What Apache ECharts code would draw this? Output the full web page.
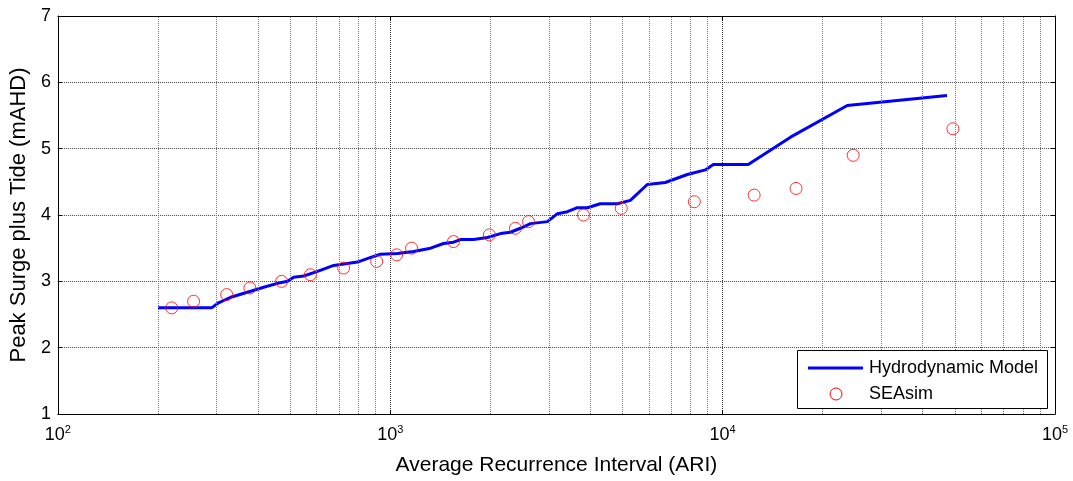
<!DOCTYPE html>
<html>
<head>
<meta charset="utf-8">
<script src="https://cdn.jsdelivr.net/npm/echarts@6/dist/echarts.min.js"></script>
<style>
    html, body { margin: 0; padding: 0; background: #fff; }
    #main { width: 1073px; height: 481px; }
</style>
</head>
<body>
<div id="main"></div>
<script>
    // Hydrodynamic Model (ARI, peak level)
    var modelAri = [200, 290, 303, 331, 380, 416, 458, 491, 512, 549, 604, 676, 797, 873, 935,
        1052, 1175, 1322, 1447, 1550, 1626, 1780, 1961, 2146, 2299, 2464, 2641, 2971, 3184,
        3412, 3656, 3918, 4285, 4822, 5276, 5933, 6719, 7834, 8870, 9373, 11940, 15960, 23710, 47320];
    var modelLevel = [2.6, 2.6, 2.67, 2.76, 2.85, 2.91, 2.97, 3.0, 3.06, 3.08, 3.15, 3.24, 3.29, 3.36, 3.41,
        3.42, 3.45, 3.5, 3.57, 3.59, 3.63, 3.63, 3.66, 3.72, 3.74, 3.8, 3.87, 3.9, 4.02,
        4.05, 4.11, 4.11, 4.17, 4.17, 4.22, 4.46, 4.49, 4.61, 4.68, 4.76, 4.76, 5.17, 5.65, 5.8];

    // SEAsim points
    var seaAri = [220, 256, 322, 378, 471, 575, 724, 910, 1045, 1159, 1549, 1987, 2380, 2606,
        3813, 4955, 8220, 12440, 16630, 24700, 49300];
    var seaLevel = [2.6, 2.7, 2.8, 2.9, 3.0, 3.1, 3.2, 3.3, 3.4, 3.5, 3.6, 3.7, 3.8, 3.9,
        4.0, 4.1, 4.2, 4.3, 4.4, 4.9, 5.3];

    // minor log grid lines
    var minorGrid = [200, 300, 400, 500, 600, 700, 800, 900,
        2000, 3000, 4000, 5000, 6000, 7000, 8000, 9000,
        20000, 30000, 40000, 50000, 60000, 70000, 80000, 90000];

    var font = 'Liberation Sans, Arial, sans-serif';
    var chart = echarts.init(document.getElementById('main'));

    function zip(a, b) {
        return a.map(function (v, i) { return [v, b[i]]; });
    }

    // legend drawn by hand (matlab style box)
    var legendBox = [
        { type: 'rect', left: 797, top: 350, shape: { width: 250, height: 58 },
          style: { fill: '#fff', stroke: '#000', lineWidth: 1 }, z: 100 },
        { type: 'line', shape: { x1: 808, y1: 368, x2: 863, y2: 368 },
          style: { stroke: '#0000ff', lineWidth: 3 }, z: 101 },
        { type: 'text', left: 869, top: 359,
          style: { text: 'Hydrodynamic Model', font: '18px ' + font, fill: '#000' }, z: 101 },
        { type: 'circle', shape: { cx: 836, cy: 394, r: 6 },
          style: { fill: 'none', stroke: '#ff0000', lineWidth: 1 }, z: 101 },
        { type: 'text', left: 869, top: 385,
          style: { text: 'SEAsim', font: '18px ' + font, fill: '#000' }, z: 101 }
    ];

    var option = {
        animation: false,
        backgroundColor: '#fff',
        grid: { left: 57, right: 18, top: 16, bottom: 66 },
        graphic: legendBox,
        xAxis: [{
            type: 'log',
            logBase: 10,
            min: 100,
            max: 100000,
            position: 'bottom',
            name: 'Average Recurrence Interval (ARI)',
            nameLocation: 'middle',
            nameGap: 41,
            nameTextStyle: { fontFamily: font, fontSize: 21, color: '#000' },
            axisLine: { lineStyle: { color: '#000', width: 1 } },
            axisTick: { inside: true, length: 4, lineStyle: { color: '#000' } },
            splitLine: { show: true, lineStyle: { color: '#333', type: 'dotted' } },
            axisLabel: {
                margin: 10,
                formatter: function (v) {
                    return '{b|10}{s|' + Math.round(Math.log10(v)) + '}';
                },
                rich: {
                    b: { fontFamily: font, fontSize: 18, color: '#000' },
                    s: { fontFamily: font, fontSize: 11, color: '#000', padding: [0, 0, 11, 0] }
                }
            }
        }, {
            type: 'log',
            logBase: 10,
            min: 100,
            max: 100000,
            position: 'top',
            axisLine: { lineStyle: { color: '#000', width: 1 } },
            axisTick: { inside: true, length: 4, lineStyle: { color: '#000' } },
            axisLabel: { show: false },
            splitLine: { show: false }
        }],
        yAxis: [{
            type: 'value',
            min: 1,
            max: 7,
            interval: 1,
            name: 'Peak Surge plus Tide (mAHD)',
            nameLocation: 'middle',
            nameGap: 24,
            nameTextStyle: { fontFamily: font, fontSize: 22, color: '#000' },
            axisLine: { show: true, lineStyle: { color: '#000', width: 1 } },
            axisTick: { show: true, inside: true, length: 4, lineStyle: { color: '#000' } },
            axisLabel: { margin: 7, fontFamily: font, fontSize: 18, color: '#000' },
            splitLine: { show: true, lineStyle: { color: '#444', type: 'dotted' } }
        }, {
            type: 'value',
            min: 1,
            max: 7,
            interval: 1,
            position: 'right',
            axisLine: { show: true, lineStyle: { color: '#000', width: 1 } },
            axisTick: { show: true, inside: true, length: 4, lineStyle: { color: '#000' } },
            axisLabel: { show: false },
            splitLine: { show: false }
        }],
        series: [{
            name: 'minor',
            type: 'line',
            data: [],
            silent: true,
            markLine: {
                silent: true,
                symbol: 'none',
                label: { show: false },
                lineStyle: { color: '#777', type: 'dotted', width: 1 },
                data: minorGrid.map(function (v) { return { xAxis: v }; })
            }
        }, {
            name: 'Hydrodynamic Model',
            type: 'line',
            data: zip(modelAri, modelLevel),
            symbol: 'none',
            lineStyle: { color: '#0000ff', width: 3 },
            itemStyle: { color: '#0000ff' },
            z: 3
        }, {
            name: 'SEAsim',
            type: 'scatter',
            data: zip(seaAri, seaLevel),
            symbol: 'circle',
            symbolSize: 12,
            itemStyle: { color: 'rgba(0,0,0,0)', borderColor: '#ff0000', borderWidth: 1 },
            z: 4
        }]
    };

    chart.setOption(option);
</script>
</body>
</html>
